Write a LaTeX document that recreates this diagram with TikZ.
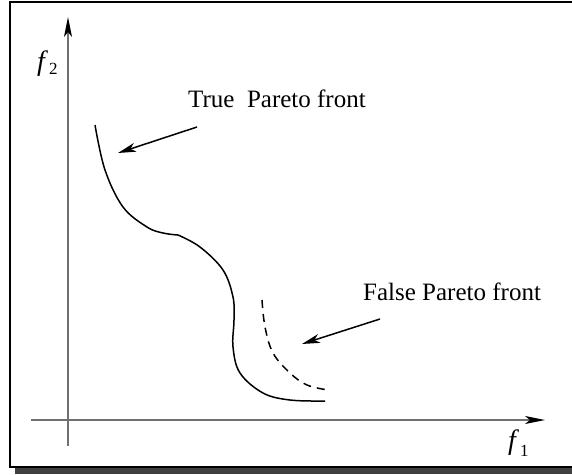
\documentclass[tikz,border=0pt]{standalone}
\usepackage{fontspec}
\setmainfont{Liberation Serif}
\usetikzlibrary{arrows.meta}
\definecolor{axisgray}{HTML}{707070}
\definecolor{shadowgray}{HTML}{404040}
\begin{document}
\begin{tikzpicture}[x=1pt,y=-1pt,
  axis/.style={draw=axisgray,line width=1.3pt,-{Stealth[length=20pt,width=8pt,inset=5pt,color=black]}},
  pointer/.style={draw=black,line width=1.5pt,-{Stealth[length=18pt,width=9pt,inset=5pt]}},
  front/.style={draw=black,line width=1.5pt},
  lbl/.style={inner sep=0pt,anchor=base west,font=\fontsize{25}{25}\selectfont},
  axlbl/.style={inner sep=0pt,anchor=base west,font=\fontsize{28}{28}\selectfont}]
\useasboundingbox (0,0) rectangle (572,474);
\begin{scope}
\clip (0,0) rectangle (572,474);
% shadow and frame
\fill[shadowgray] (15,467) rectangle (600,474);
\draw[black,line width=2pt,fill=white] (10,2) rectangle (590,467);
% axes
\coordinate (yo) at (68,446);
\coordinate (yt) at (68,17);
\coordinate (xo) at (31,420);
\coordinate (xt) at (545,420);
\draw[axis] (yo) -- (yt);
\draw[axis] (xo) -- (xt);
\node[axlbl] (f2) at (37,70) {\textit{f}\kern1pt\raisebox{-4pt}{\fontsize{17}{17}\selectfont\upshape 2}};
\node[axlbl] (f1) at (508,449) {\textit{f}\kern1pt\raisebox{-7pt}{\fontsize{17}{17}\selectfont\upshape 1}};
% true front
\draw[front] plot[smooth,tension=0.6] coordinates {(95,125) (105,170) (123,207) (147,227) (163,233) (178,235)};
\draw[front] plot[smooth,tension=0.6] coordinates {(178,235) (200,247) (223,270) (233,297) (234,320) (233,347) (240,373) (263,393) (290,400) (325,401)};
% false front
\draw[front,dash pattern=on 8pt off 6pt] plot[smooth,tension=0.6] coordinates {(262,300) (265,327) (273,353) (290,373) (307,385) (328,390)};
% labels
\node[lbl] (truelbl) at (188,107) {True\ \ Pareto front};
\node[lbl] (falselbl) at (363,300) {False Pareto front};
\coordinate (ta) at (197,127);
\coordinate (tb) at (118,153);
\coordinate (fa) at (380,319);
\coordinate (fb) at (302,344);
\draw[pointer] (ta) -- (tb);
\draw[pointer] (fa) -- (fb);
\end{scope}
\end{tikzpicture}
\end{document}
